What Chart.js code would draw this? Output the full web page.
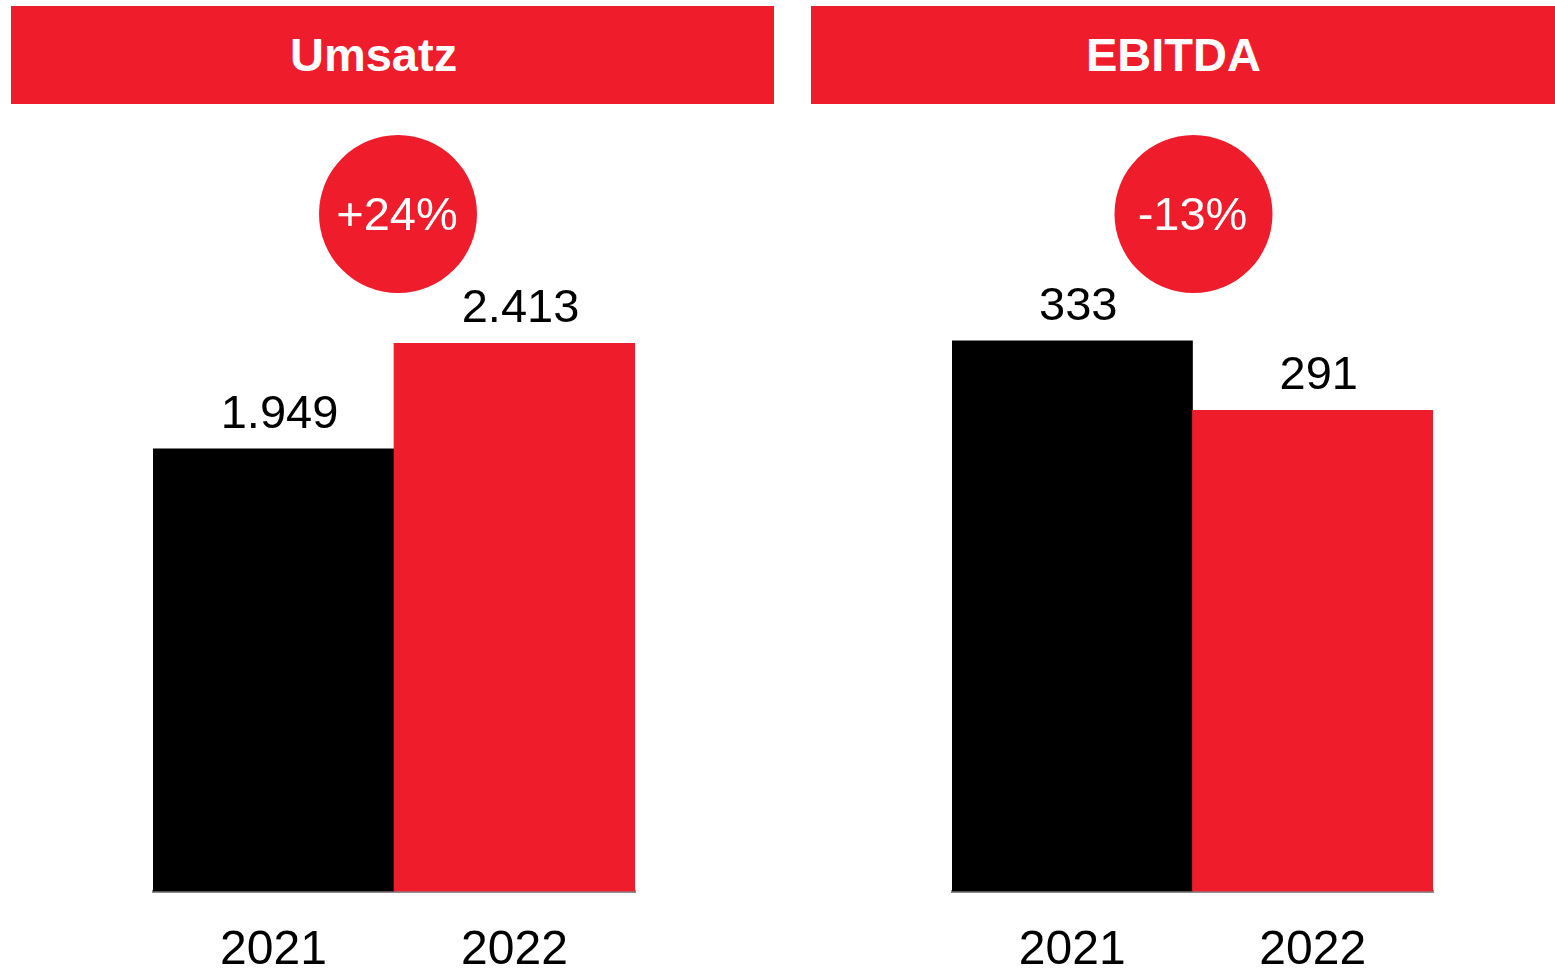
<!DOCTYPE html>
<html>
<head>
<meta charset="utf-8">
<script src="https://cdn.jsdelivr.net/npm/chart.js@4.4.0/dist/chart.umd.min.js"></script>
<style>
  body { margin: 0; background: #fff; width: 1555px; height: 974px; overflow: hidden; position: relative; font-family: "Liberation Sans", Arial, sans-serif; }
  .banner { position: absolute; top: 6px; height: 98px; background: #ef1c2c; color: #fff; font-weight: bold; font-size: 47px; line-height: 98px; }
  .banner span { position: absolute; top: 0; }
  canvas { position: absolute; }
</style>
</head>
<body>
<div class="banner" style="left:11px; width:763px;"><span id="t0" style="left:279px;"></span></div>
<div class="banner" style="left:811px; width:744px;"><span id="t1" style="left:275px;"></span></div>
<canvas id="umsatzChart" width="777" height="904" style="left:0; top:110px;"></canvas>
<canvas id="ebitdaChart" width="778" height="904" style="left:777px; top:110px;"></canvas>
<script>
const years = ['2021', '2022'];
const umsatz = [1949, 2413];
const ebitda = [333, 291];
const titles = ['Umsatz', 'EBITDA'];
const changes = ['+24%', '-13%'];
const barColors = ['#000000', '#ef1c2c'];

document.getElementById('t0').textContent = titles[0];
document.getElementById('t1').textContent = titles[1];

const fmt = v => v.toLocaleString('de-DE');

// value labels above the bars + round badge with the change
const labelPlugin = {
    id: 'labels',
    afterDatasetsDraw(chart, args, opts) {
        const ctx = chart.ctx;
        const bars = chart.getDatasetMeta(0).data;
        ctx.save();
        ctx.font = '47px "Liberation Sans", Arial, sans-serif';
        ctx.textAlign = 'center';
        ctx.textBaseline = 'alphabetic';
        ctx.fillStyle = '#000';
        bars.forEach((bar, i) => {
            ctx.fillText(fmt(chart.data.datasets[0].data[i]), bar.x + 6, bar.y - 21);
        });
        const cx = (bars[0].x + bars[1].x) / 2 + opts.dx;
        const cy = 104;
        ctx.beginPath();
        ctx.arc(cx, cy, 79, 0, Math.PI * 2);
        ctx.fillStyle = '#ef1c2c';
        ctx.fill();
        ctx.fillStyle = '#fff';
        ctx.textBaseline = 'middle';
        ctx.fillText(opts.text, cx - 1, cy + 3);
        ctx.restore();
    }
};

function makeChart(id, values, yMax, pad, badge) {
    return new Chart(document.getElementById(id), {
        type: 'bar',
        data: {
            labels: years,
            datasets: [{
                data: values,
                backgroundColor: barColors,
                categoryPercentage: 1,
                barPercentage: 1
            }]
        },
        options: {
            responsive: false,
            animation: false,
            layout: { padding: pad },
            plugins: {
                legend: { display: false },
                tooltip: { enabled: false },
                labels: badge
            },
            scales: {
                x: {
                    grid: { display: false, drawTicks: false },
                    border: { display: true, color: '#8c8c8c', width: 3 },
                    ticks: {
                        color: '#000',
                        padding: 31,
                        font: { family: '"Liberation Sans", Arial, sans-serif', size: 48 }
                    }
                },
                y: { display: false, min: 0, max: yMax }
            }
        },
        plugins: [labelPlugin]
    });
}

makeChart('umsatzChart', umsatz, 3000, { left: 153, right: 142, top: 100, bottom: 3 }, { text: changes[0], dx: 4 });
makeChart('ebitdaChart', ebitda, 400, { left: 175, right: 122, top: 120, bottom: 3 }, { text: changes[1], dx: 1 });
</script>
</body>
</html>
